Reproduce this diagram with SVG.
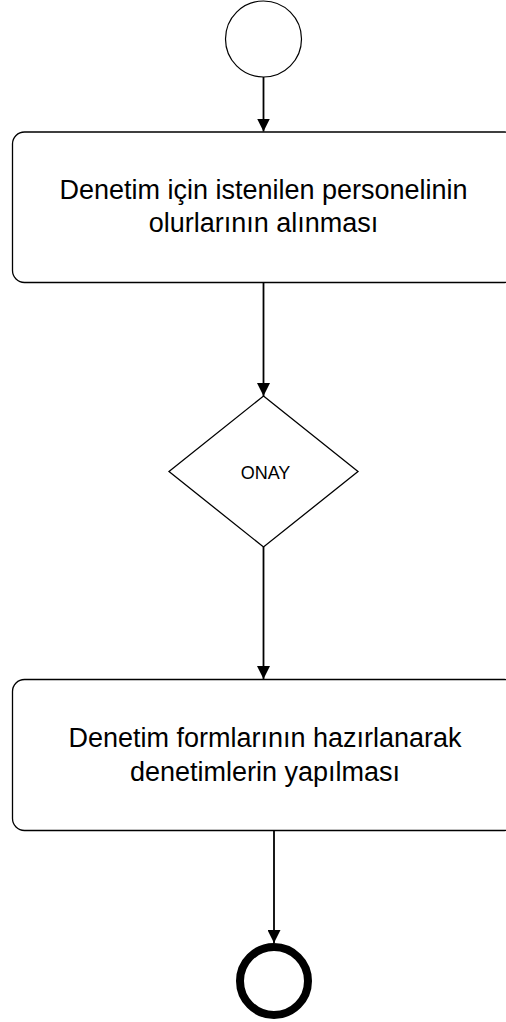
<svg xmlns="http://www.w3.org/2000/svg" width="506" height="1022" viewBox="0 0 506 1022">
<style>
.node{fill:#fff;stroke:#000;stroke-width:1.3}
.lbl{font-family:"Liberation Sans",Arial,sans-serif;font-size:27px;fill:#000;text-anchor:middle}
.conn{stroke:#000;stroke-width:1.8;fill:none}
</style>
<defs>
<marker id="arr" markerUnits="userSpaceOnUse" markerWidth="13" markerHeight="13" refX="13" refY="6.5" orient="auto">
<path d="M0,0 L13,6.5 L0,13 z" fill="#000"/>
</marker>
</defs>
<rect width="506" height="1022" fill="#fff"/>
<g id="connectors">
<line class="conn" x1="263.5" y1="77" x2="263.5" y2="131.5" marker-end="url(#arr)"/>
<line class="conn" x1="263.5" y1="283" x2="263.5" y2="396" marker-end="url(#arr)"/>
<line class="conn" x1="263.5" y1="547" x2="263.5" y2="679" marker-end="url(#arr)"/>
<line class="conn" x1="274" y1="831" x2="274" y2="943" marker-end="url(#arr)"/>
</g>
<g id="start">
<circle cx="263.5" cy="39" r="38" fill="#fff" stroke="#000" stroke-width="1.2"/>
</g>
<g id="task1">
<rect class="node" x="12.5" y="132" width="504" height="150.5" rx="12" ry="12"/>
<text class="lbl" x="263.5" y="199">Denetim için istenilen personelinin</text>
<text class="lbl" x="263.5" y="232">olurlarının alınması</text>
</g>
<g id="decision">
<polygon class="node" points="263.5,396 358,471.5 263.5,547 169,471.5" stroke-width="1.6"/>
<text x="265.5" y="479" font-family="Liberation Sans, Arial, sans-serif" font-size="18" text-anchor="middle">ONAY</text>
</g>
<g id="task2">
<rect class="node" x="12.5" y="679.5" width="504" height="151" rx="12" ry="12"/>
<text class="lbl" x="265" y="747">Denetim formlarının hazırlanarak</text>
<text class="lbl" x="265" y="780.5">denetimlerin yapılması</text>
</g>
<g id="end">
<circle cx="274" cy="981" r="34" fill="#fff" stroke="#000" stroke-width="8"/>
</g>
</svg>
